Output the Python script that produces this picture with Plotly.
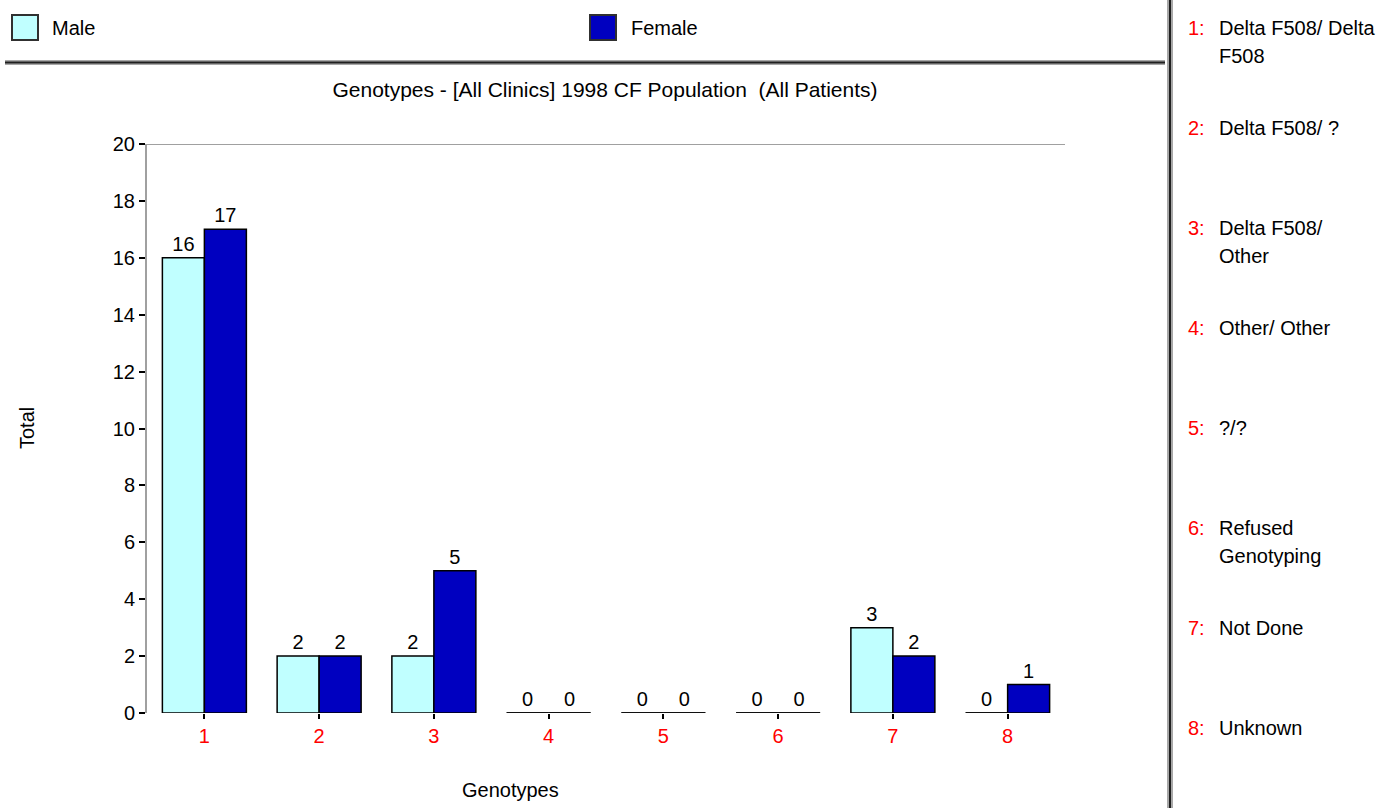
import plotly.graph_objects as go

# Genotype counts by sex
genotype_ids = [1, 2, 3, 4, 5, 6, 7, 8]
genotype_names = [
    ["Delta F508/ Delta", "F508"],
    ["Delta F508/ ?"],
    ["Delta F508/", "Other"],
    ["Other/ Other"],
    ["?/?"],
    ["Refused", "Genotyping"],
    ["Not Done"],
    ["Unknown"],
]
male_counts = [16, 2, 2, 0, 0, 0, 3, 0]
female_counts = [17, 2, 5, 0, 0, 0, 2, 1]

MALE_COLOR = "#C0FFFF"
FEMALE_COLOR = "#0000C0"
FONT = "Liberation Sans, Arial, sans-serif"
FS = 20

W, H = 1384, 808
PL, PR, PT, PB = 147, 1065, 144, 713  # plot area in pixels
BARGAP = 0.268


def px_x(x):
    return (x - PL) / (PR - PL)


def px_y(y):
    return (PB - y) / (PB - PT)


fig = go.Figure()
for name, vals, color in [("Male", male_counts, MALE_COLOR),
                          ("Female", female_counts, FEMALE_COLOR)]:
    fig.add_trace(go.Bar(
        name=name, x=genotype_ids, y=vals,
        marker=dict(color=color, line=dict(color="#000000", width=1.5)),
        text=[str(v) for v in vals], textposition="outside",
        textfont=dict(family=FONT, size=FS, color="#000000"),
        cliponaxis=False, showlegend=False,
    ))

shapes = []
# baseline under each bar group (visible where a count is zero)
half = (1 - BARGAP) / 2
for g in genotype_ids:
    shapes.append(dict(type="line", xref="x", yref="y", x0=g - half, x1=g + half,
                       y0=0, y1=0, line=dict(color="#000000", width=1.5), layer="below"))
# top frame line at the axis maximum
shapes.append(dict(type="line", xref="paper", yref="y", x0=0, x1=1, y0=20, y1=20,
                   line=dict(color="#A0A0A0", width=2)))
# separator lines
for color, width in [("#A8A8A8", 5), ("#202020", 2)]:
    shapes.append(dict(type="line", xref="paper", yref="paper",
                       x0=px_x(5), x1=px_x(1165), y0=px_y(62.5), y1=px_y(62.5),
                       line=dict(color=color, width=width)))
for color, width in [("#A8A8A8", 6), ("#202020", 2)]:
    shapes.append(dict(type="line", xref="paper", yref="paper",
                       x0=px_x(1170), x1=px_x(1170), y0=px_y(0), y1=px_y(H),
                       line=dict(color=color, width=width)))
# legend swatches
for x0, color in [(12, MALE_COLOR), (590, FEMALE_COLOR)]:
    shapes.append(dict(type="rect", xref="paper", yref="paper",
                       x0=px_x(x0), x1=px_x(x0 + 26), y0=px_y(15), y1=px_y(40),
                       fillcolor=color, line=dict(color="#303030", width=2)))

annotations = []
for x0, label in [(50, "Male"), (629, "Female")]:
    annotations.append(dict(text=label, xref="paper", yref="paper", x=px_x(x0), y=px_y(28),
                            xanchor="left", yanchor="middle", showarrow=False,
                            font=dict(family=FONT, size=FS, color="#000000")))
# axis titles
annotations.append(dict(text="Genotypes", xref="paper", yref="paper", x=px_x(510), y=px_y(790),
                        xanchor="center", yanchor="middle", showarrow=False,
                        font=dict(family=FONT, size=FS, color="#000000")))
annotations.append(dict(text="Total", xref="paper", yref="paper", x=px_x(27), y=px_y(428),
                        xanchor="center", yanchor="middle", showarrow=False, textangle=-90,
                        font=dict(family=FONT, size=FS, color="#000000")))
# genotype key on the right
for k, (gid, lines) in enumerate(zip(genotype_ids, genotype_names)):
    ymid = 28 + 100 * k
    annotations.append(dict(text=f"{gid}:", xref="paper", yref="paper", x=px_x(1186), y=px_y(ymid),
                            xanchor="left", yanchor="middle", showarrow=False,
                            font=dict(family=FONT, size=FS, color="#FF0000")))
    for j, line in enumerate(lines):
        annotations.append(dict(text=line, xref="paper", yref="paper", x=px_x(1217),
                                y=px_y(ymid + 28 * j),
                                xanchor="left", yanchor="middle", showarrow=False,
                                font=dict(family=FONT, size=FS, color="#000000")))

fig.update_layout(
    width=W, height=H,
    margin=dict(l=PL, r=W - PR, t=PT, b=H - PB, pad=0),
    paper_bgcolor="#FFFFFF", plot_bgcolor="#FFFFFF",
    font=dict(family=FONT, size=FS, color="#000000"),
    title=dict(text="Genotypes - [All Clinics] 1998 CF Population  (All Patients)",
               x=px_x(605), xref="paper", xanchor="center",
               y=1 - 90 / H, yref="container", yanchor="middle",
               font=dict(family=FONT, size=21, color="#000000")),
    barmode="group", bargap=BARGAP, bargroupgap=0,
    xaxis=dict(range=[0.5, 8.5], tickmode="array", tickvals=genotype_ids,
               ticktext=[str(g) for g in genotype_ids],
               tickfont=dict(family=FONT, size=FS, color="#FF0000"),
               showline=False, showgrid=False, zeroline=False,
               ticks="outside", ticklen=5, tickwidth=1.5, tickcolor="#000000",
               fixedrange=True),
    yaxis=dict(range=[0, 20], dtick=2, tick0=0,
               tickfont=dict(family=FONT, size=FS, color="#000000"),
               showline=True, linecolor="#A0A0A0", linewidth=2,
               showgrid=False, zeroline=False,
               ticks="outside", ticklen=6, tickwidth=1.5, tickcolor="#000000",
               fixedrange=True),
    shapes=shapes, annotations=annotations,
)

fig.write_html("out.html")
